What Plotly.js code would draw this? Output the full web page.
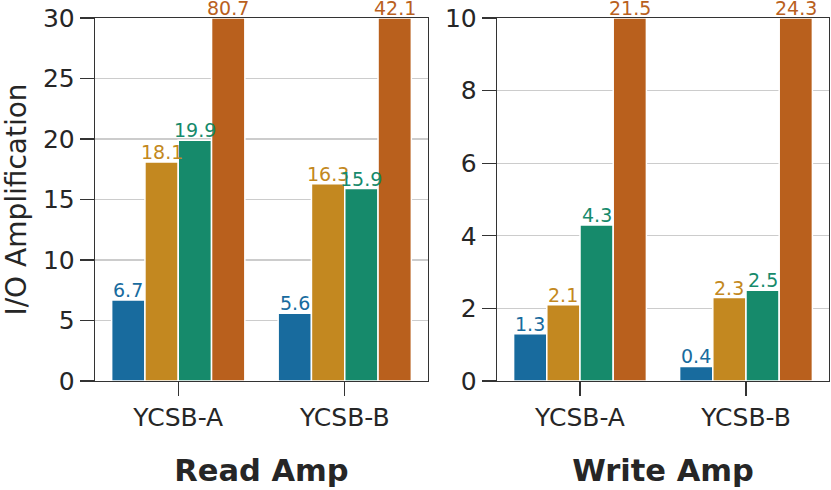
<!DOCTYPE html>
<html>
<head>
<meta charset="utf-8">
<script src="https://cdn.plot.ly/plotly-3.0.1.min.js"></script>
<style>
  html, body { margin: 0; padding: 0; background: #fff; }
  #plot { width: 831px; height: 490px; }
</style>
</head>
<body>
<div id="plot"></div>
<script>
    // workloads on the x axis
    let workloads = ['YCSB-A', 'YCSB-B'];

    // read amplification, one array per system (left panel)
    let readSys1 = [6.7, 5.6];
    let readSys2 = [18.1, 16.3];
    let readSys3 = [19.9, 15.9];
    let readSys4 = [80.7, 42.1];

    // write amplification (right panel)
    let writeSys1 = [1.3, 0.4];
    let writeSys2 = [2.1, 2.3];
    let writeSys3 = [4.3, 2.5];
    let writeSys4 = [21.5, 24.3];

    let readMax = 30;
    let writeMax = 10;
    let readTicks = [0, 5, 10, 15, 20, 25, 30];
    let writeTicks = [0, 2, 4, 6, 8, 10];

    let colors = ['#186b9e', '#c38820', '#168a6b', '#b9601d'];
    let font = 'DejaVu Sans, sans-serif';
    let bargap = 0.2;
    let nSys = 4;

    // bars taller than the axis are cut at the top, label keeps the real value
    function barTrace(vals, ymax, color, xa, ya) {
        return {
            type: 'bar',
            x: workloads,
            y: vals.map((v) => Math.min(v, ymax)),
            marker: {color: color, line: {color: '#ffffff', width: 1.5}},
            hoverinfo: 'skip',
            showlegend: false,
            xaxis: xa,
            yaxis: ya
        };
    }

    // value labels sit on top of each bar (on the top spine for cut bars)
    function labels(vals, ymax, j, color, xa, ya) {
        let w = (1 - bargap) / nSys;
        return vals.map((v, i) => ({
            xref: xa, yref: ya,
            x: i + (j - (nSys - 1) / 2) * w,
            y: Math.min(v, ymax),
            text: v.toFixed(1),
            showarrow: false,
            xanchor: 'center', yanchor: 'bottom',
            yshift: -3,
            font: {family: font, size: 19, color: color}
        }));
    }

    let data = [];
    let annotations = [];
    [readSys1, readSys2, readSys3, readSys4].forEach((d, j) => {
        data.push(barTrace(d, readMax, colors[j], 'x', 'y'));
        annotations = annotations.concat(labels(d, readMax, j, colors[j], 'x', 'y'));
    });
    [writeSys1, writeSys2, writeSys3, writeSys4].forEach((d, j) => {
        data.push(barTrace(d, writeMax, colors[j], 'x2', 'y2'));
        annotations = annotations.concat(labels(d, writeMax, j, colors[j], 'x2', 'y2'));
    });

    let xbase = {
        type: 'category',
        range: [-0.5, 1.5],
        showline: true, mirror: true, linecolor: '#333333', linewidth: 1.3,
        ticks: 'outside', ticklen: 14, tickcolor: '#333333', tickwidth: 1.3,
        tickfont: {family: font, size: 25, color: '#262626'},
        showgrid: false, zeroline: false, fixedrange: true
    };
    let ybase = {
        showline: true, mirror: true, linecolor: '#333333', linewidth: 1.3,
        ticks: 'outside', ticklen: 14, tickcolor: '#333333', tickwidth: 1.3,
        tickfont: {family: font, size: 25, color: '#262626'},
        showgrid: true, gridcolor: '#cccccc', gridwidth: 1.2,
        zeroline: false, fixedrange: true
    };
    let yDomain = [1 - 381 / 490, 1 - 18 / 490];

    let layout = {
        width: 831,
        height: 490,
        margin: {l: 0, r: 0, t: 0, b: 0},
        paper_bgcolor: '#ffffff',
        plot_bgcolor: '#ffffff',
        barmode: 'group',
        bargap: bargap,
        bargroupgap: 0,
        font: {family: font, color: '#262626'},
        annotations: annotations,
        xaxis: Object.assign({}, xbase, {
            domain: [95 / 831, 428 / 831], anchor: 'y',
            title: {text: '<b>Read Amp</b>', font: {family: font, size: 30.5, color: '#262626'}, standoff: 28}
        }),
        yaxis: Object.assign({}, ybase, {
            domain: yDomain, anchor: 'x',
            range: [0, readMax], tickvals: readTicks,
            title: {text: 'I/O Amplification', font: {family: font, size: 28, color: '#262626'}, standoff: 12}
        }),
        xaxis2: Object.assign({}, xbase, {
            domain: [497 / 831, 829 / 831], anchor: 'y2',
            title: {text: '<b>Write Amp</b>', font: {family: font, size: 30.5, color: '#262626'}, standoff: 28}
        }),
        yaxis2: Object.assign({}, ybase, {
            domain: yDomain, anchor: 'x2',
            range: [0, writeMax], tickvals: writeTicks
        })
    };

    Plotly.newPlot('plot', data, layout, {displayModeBar: false, staticPlot: true});
</script>
</body>
</html>
